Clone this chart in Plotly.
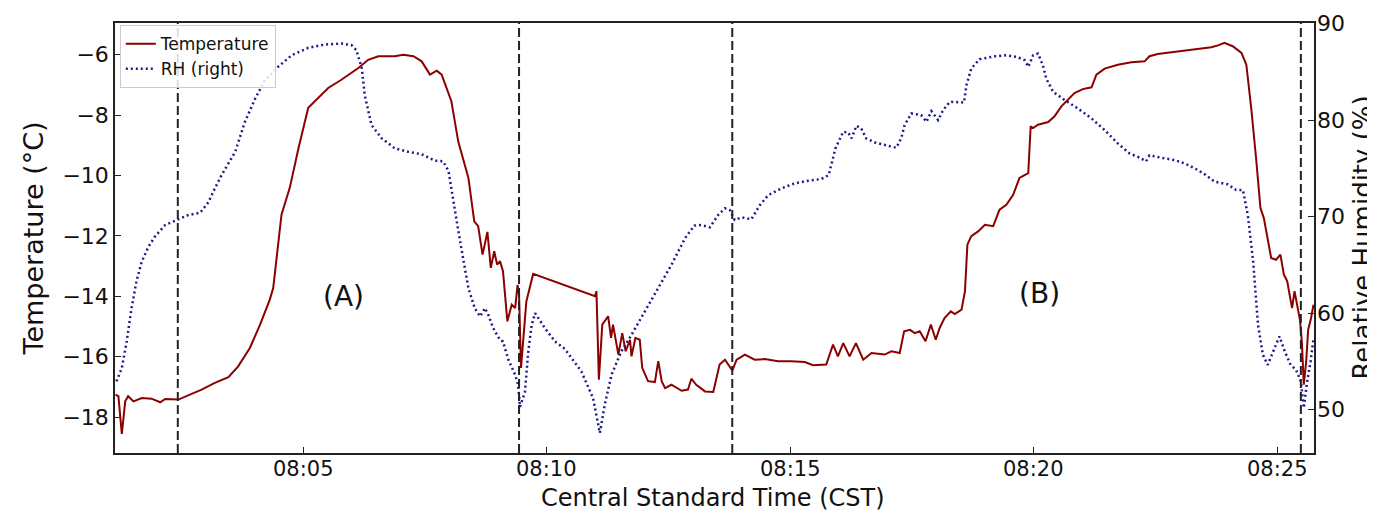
import pandas as pd
import plotly.graph_objects as go

# minutes after 08:00 CST
temp_min = [1.14, 1.20, 1.27, 1.34, 1.40, 1.51, 1.68, 1.88, 2.06, 2.16, 2.43, 2.64, 2.91, 3.18, 3.46,
            3.66, 3.90, 4.11, 4.31, 4.38, 4.48, 4.55, 4.72, 4.90, 5.10, 5.31, 5.51, 5.78, 6.13, 6.33,
            6.54, 6.88, 7.05, 7.26, 7.43, 7.60, 7.74, 7.84, 8.04, 8.18, 8.39, 8.51, 8.59, 8.68, 8.78,
            8.85, 8.92, 8.98, 9.04, 9.10, 9.19, 9.28, 9.35, 9.40, 9.43, 9.47, 9.58, 9.72, 10.99, 11.02,
            11.07, 11.14, 11.19, 11.26, 11.32, 11.36, 11.47, 11.55, 11.62, 11.71, 11.74, 11.82, 11.91,
            11.96, 12.08, 12.22, 12.29, 12.36, 12.43, 12.56, 12.77, 12.90, 12.97, 13.07, 13.25, 13.42,
            13.55, 13.66, 13.81, 13.90, 14.07, 14.27, 14.48, 14.75, 15.02, 15.30, 15.47, 15.74, 15.88,
            15.98, 16.09, 16.22, 16.35, 16.50, 16.67, 16.94, 17.08, 17.25, 17.34, 17.46, 17.56, 17.66,
            17.78, 17.89, 17.99, 18.07, 18.17, 18.30, 18.38, 18.52, 18.59, 18.64, 18.72, 18.86, 19.00,
            19.17, 19.30, 19.44, 19.58, 19.71, 19.89, 19.94, 19.99, 20.09, 20.30, 20.43, 20.57, 20.71,
            20.84, 21.01, 21.19, 21.29, 21.46, 21.73, 22.01, 22.28, 22.38, 22.55, 22.90, 23.24, 23.65,
            23.79, 23.92, 24.09, 24.27, 24.37, 24.47, 24.57, 24.66, 24.73, 24.81, 24.88, 24.98, 25.07,
            25.14, 25.21, 25.24, 25.31, 25.36, 25.42, 25.47, 25.51, 25.55, 25.60, 25.64, 25.70, 25.75]
temp_val = [-17.26, -17.31, -18.56, -17.48, -17.31, -17.48, -17.37, -17.39, -17.51, -17.40, -17.42,
            -17.28, -17.09, -16.87, -16.68, -16.32, -15.71, -14.94, -14.11, -13.73, -12.40, -11.30,
            -10.41, -9.09, -7.76, -7.43, -7.10, -6.83, -6.44, -6.17, -6.05, -6.05, -6.00, -6.05, -6.22,
            -6.66, -6.53, -6.66, -7.54, -8.87, -10.08, -11.52, -11.68, -12.62, -11.87, -13.06, -12.51,
            -12.95, -12.84, -13.17, -14.83, -14.28, -14.39, -13.62, -13.95, -16.37, -14.17, -13.26,
            -14.00, -13.83, -16.76, -14.94, -14.83, -14.66, -15.38, -14.94, -15.93, -15.22, -15.82,
            -15.44, -15.99, -15.38, -15.44, -16.37, -16.81, -16.84, -16.15, -16.81, -17.04, -16.93,
            -17.13, -17.09, -16.73, -16.93, -17.15, -17.17, -16.26, -16.10, -16.46, -16.10, -15.93,
            -16.10, -16.08, -16.15, -16.15, -16.18, -16.28, -16.26, -15.60, -15.99, -15.55, -15.99,
            -15.55, -16.10, -15.88, -15.93, -15.82, -15.88, -15.16, -15.11, -15.22, -15.16, -15.49,
            -14.94, -15.44, -15.05, -14.72, -14.50, -14.59, -14.44, -13.83, -12.29, -12.01, -11.85,
            -11.63, -11.68, -11.13, -10.97, -10.64, -10.08, -9.92, -8.37, -8.43, -8.32, -8.23, -8.04,
            -7.71, -7.49, -7.27, -7.14, -7.08, -6.66, -6.46, -6.33, -6.25, -6.22, -6.05, -5.98, -5.91,
            -5.83, -5.75, -5.69, -5.61, -5.72, -5.94, -6.33, -7.76, -9.42, -11.08, -11.41, -12.18,
            -12.73, -12.79, -12.62, -13.28, -13.50, -13.78, -14.39, -13.83, -14.39, -14.77, -15.49,
            -16.93, -16.15, -15.11, -14.72, -14.28]

rh_min = [1.16, 1.27, 1.37, 1.47, 1.57, 1.68, 1.82, 1.95, 2.16, 2.43, 2.64, 2.88, 3.05, 3.15, 3.32,
          3.60, 3.80, 4.01, 4.21, 4.48, 4.76, 5.10, 5.44, 5.78, 5.99, 6.09, 6.20, 6.26, 6.40, 6.61,
          6.88, 7.15, 7.43, 7.70, 7.87, 7.98, 8.08, 8.18, 8.28, 8.39, 8.52, 8.63, 8.73, 8.80, 8.90,
          9.04, 9.10, 9.21, 9.35, 9.41, 9.45, 9.55, 9.62, 9.69, 9.76, 9.96, 10.17, 10.37, 10.71,
          10.95, 11.09, 11.19, 11.33, 11.53, 11.74, 12.01, 12.29, 12.56, 12.84, 13.03, 13.18, 13.35,
          13.52, 13.66, 13.76, 13.86, 14.00, 14.20, 14.38, 14.55, 14.82, 15.09, 15.37, 15.64, 15.79,
          15.86, 15.93, 16.09, 16.19, 16.26, 16.36, 16.46, 16.56, 16.74, 16.94, 17.18, 17.28, 17.35,
          17.49, 17.69, 17.80, 17.90, 18.04, 18.14, 18.28, 18.57, 18.62, 18.72, 18.89, 19.20, 19.44,
          19.65, 19.82, 19.89, 19.99, 20.09, 20.19, 20.26, 20.40, 20.64, 20.91, 21.19, 21.46, 21.73,
          21.97, 22.18, 22.31, 22.38, 22.69, 22.90, 23.10, 23.31, 23.51, 23.72, 23.99, 24.16, 24.30,
          24.40, 24.51, 24.61, 24.71, 24.81, 24.95, 25.05, 25.16, 25.28, 25.39, 25.49, 25.55, 25.62,
          25.69, 25.75]
rh_val = [52.94, 54.31, 57.07, 60.52, 63.28, 65.35, 66.90, 67.93, 69.13, 69.75, 70.17, 70.40, 71.50,
          72.60, 74.30, 76.72, 79.82, 82.23, 84.13, 85.51, 86.71, 87.48, 87.82, 87.92, 87.75, 87.23,
          85.34, 82.57, 79.47, 78.10, 77.06, 76.72, 76.45, 75.80, 75.72, 74.75, 71.55, 68.60, 65.70,
          62.59, 60.52, 59.66, 60.52, 59.80, 58.45, 57.20, 57.07, 55.20, 53.62, 52.59, 50.30, 51.80,
          56.04, 58.79, 60.00, 58.45, 57.07, 56.30, 53.97, 51.21, 47.59, 50.52, 53.62, 56.04, 57.76,
          60.18, 62.59, 65.00, 67.76, 69.07, 69.13, 68.89, 70.17, 70.86, 70.68, 69.65, 69.93, 69.72,
          71.20, 72.23, 72.93, 73.44, 73.72, 73.89, 74.30, 75.69, 77.06, 78.79, 78.72, 78.10, 79.41,
          79.13, 78.10, 77.68, 77.40, 77.13, 78.10, 79.47, 80.68, 80.51, 79.82, 80.92, 79.99, 81.02,
          81.89, 81.82, 83.61, 85.34, 86.30, 86.60, 86.71, 86.55, 86.19, 85.51, 86.71, 86.89, 85.68,
          84.30, 82.93, 82.06, 81.20, 80.17, 78.96, 77.58, 76.55, 76.10, 75.72, 76.35, 76.03, 75.85,
          75.51, 75.00, 74.40, 73.62, 73.34, 72.75, 72.75, 70.17, 65.35, 58.79, 55.69, 54.65, 56.38,
          57.59, 56.04, 54.65, 54.14, 52.94, 50.18, 52.94, 55.00, 57.41]

event_min = [2.42, 9.43, 13.81, 25.49]
tick_min = [5, 10, 15, 20, 25]
tick_text = ["08:05", "08:10", "08:15", "08:20", "08:25"]
temp_ticks = [-18, -16, -14, -12, -10, -8, -6]
rh_ticks = [50, 60, 70, 80, 90]
labels = [("(A)", 5.82, -14.0), ("(B)", 20.13, -13.9)]

base = pd.Timestamp("2024-01-01 08:00:00")
def tm(m):
    return base + pd.to_timedelta(m, unit="m")

FONT = "DejaVu Sans"
INK = "#111111"
fig = go.Figure()
fig.add_trace(go.Scatter(x=[tm(m) for m in temp_min], y=temp_val, mode="lines", name="Temperature",
                         line=dict(color="#8b0000", width=2), yaxis="y"))
fig.add_trace(go.Scatter(x=[tm(m) for m in rh_min], y=rh_val, mode="lines", name="RH (right)",
                         line=dict(color="#1a1a8c", width=2.5, dash="2px,3px"), yaxis="y2"))

for m in event_min:
    fig.add_shape(type="line", xref="x", yref="paper", x0=tm(m), x1=tm(m), y0=0, y1=1,
                  line=dict(color="#222222", width=2, dash="9px,4px"))

for txt, m, v in labels:
    fig.add_annotation(x=tm(m), y=v, xref="x", yref="y", text=txt, showarrow=False,
                       font=dict(family=FONT, size=28, color=INK))

# right-axis tick labels, set close to the axis line
for v in rh_ticks:
    fig.add_annotation(x=1, y=v, xref="paper", yref="y2", text=str(v), showarrow=False,
                       xanchor="left", yanchor="middle", xshift=1,
                       font=dict(family=FONT, size=22, color=INK))

# time tick labels, set just under the axis line
for m, t in zip(tick_min, tick_text):
    fig.add_annotation(x=tm(m), y=0, xref="x", yref="paper", text=t, showarrow=False,
                       xanchor="center", yanchor="top", yshift=-2,
                       font=dict(family=FONT, size=21, color=INK))

# axis titles placed as annotations (paper coords; plot area is 107..1306 x 15..445 px)
fig.add_annotation(text="Temperature (°C)", xref="paper", yref="paper", x=-0.068, y=0.5,
                   textangle=-90, showarrow=False, xanchor="center", yanchor="middle",
                   font=dict(family=FONT, size=27, color=INK))
fig.add_annotation(text="Relative Humidity (%)", xref="paper", yref="paper", x=1.0405, y=0.5,
                   textangle=-90, showarrow=False, xanchor="center", yanchor="middle",
                   font=dict(family=FONT, size=26, color=INK))
fig.add_annotation(text="Central Standard Time (CST)", xref="paper", yref="paper", x=0.499, y=-0.1047,
                   showarrow=False, xanchor="center", yanchor="middle",
                   font=dict(family=FONT, size=24, color=INK))

axis_common = dict(ticks="inside", ticklen=6, tickcolor="#222222", showline=True,
                   linecolor="#222222", linewidth=1.5, showgrid=False, zeroline=False,
                   automargin=False, tickfont=dict(family=FONT, size=22, color=INK))

fig.update_layout(
    template="none",
    width=1375, height=510,
    margin=dict(l=107, r=69, t=15, b=65, autoexpand=False),
    paper_bgcolor="white", plot_bgcolor="white",
    font=dict(family=FONT, color=INK),
    showlegend=True,
    legend=dict(x=0.004, y=0.995, xanchor="left", yanchor="top",
                bgcolor="rgba(255,255,255,0.85)", bordercolor="#cccccc", borderwidth=1,
                font=dict(family=FONT, size=17, color=INK), tracegroupgap=0),
    xaxis=dict(type="date", range=[tm(1.13), tm(25.76)],
               tickvals=[tm(m) for m in tick_min], showticklabels=False, mirror=True,
               **axis_common),
    yaxis=dict(range=[-19.19, -4.95], tickvals=temp_ticks,
               ticktext=["\u2212" + str(abs(v)) for v in temp_ticks], mirror=True,
               **axis_common),
    yaxis2=dict(range=[45.52, 90.05], overlaying="y", side="right", anchor="x",
                tickvals=rh_ticks, showticklabels=False,
                **axis_common),
)

fig.write_html("out.html")
